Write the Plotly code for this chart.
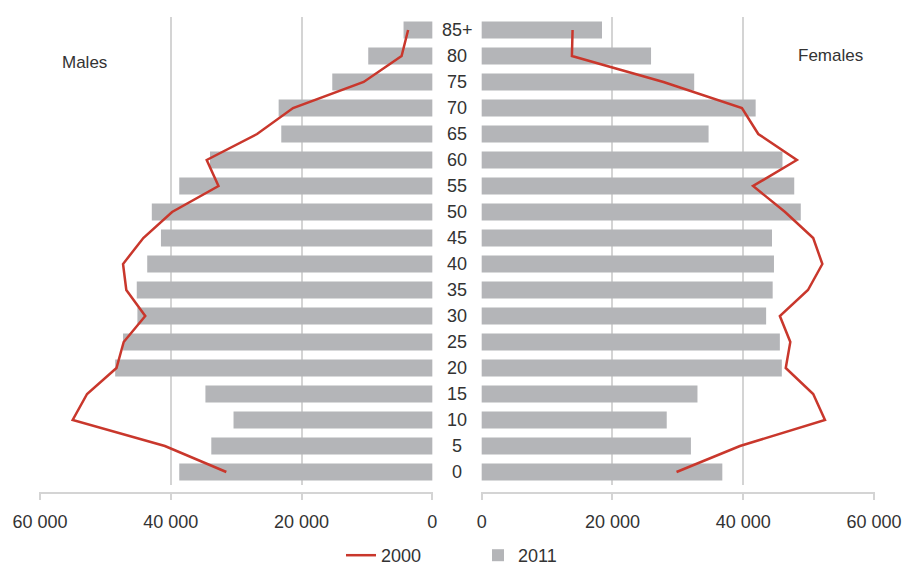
import plotly.graph_objects as go

# Age groups (bottom to top)
age_groups = ["0", "5", "10", "15", "20", "25", "30", "35", "40", "45",
              "50", "55", "60", "65", "70", "75", "80", "85+"]

# Population in 2011 (bars)
males_2011 = [38700, 33800, 30400, 34700, 48500, 47300, 45100, 45200, 43600,
              41500, 42900, 38700, 34000, 23100, 23500, 15300, 9800, 4400]
females_2011 = [36800, 32000, 28300, 33000, 45900, 45600, 43500, 44500, 44700,
                44400, 48800, 47800, 46000, 34700, 41900, 32500, 25900, 18400]

# Population in 2000 (line)
males_2000 = [31500, 40900, 55000, 52800, 48300, 47200, 43900, 46800, 47300,
              44200, 39800, 32700, 34500, 26800, 21300, 10500, 4700, 3700]
females_2000 = [29800, 39500, 52500, 50700, 46500, 47200, 45600, 49900, 52100,
                50700, 46400, 41500, 48200, 42300, 39800, 27800, 13800, 13900]

tick_vals = [0, 20000, 40000, 60000]
tick_text = ["0", "20 000", "40 000", "60 000"]

FONT = "Liberation Sans, Arial, Helvetica, sans-serif"
TEXT_COLOR = "#333333"
BAR_COLOR = "#b4b5b8"
LINE_COLOR = "#c9372c"
GRID_COLOR = "#d4d4d4"
FS = 18

W, H = 909, 567
TOP, BOTTOM = 17, 74          # plot area spans y = 17 .. 493 px
PLOT_H = H - TOP - BOTTOM

fig = go.Figure()

# 2000 lines (listed first so the legend shows them first)
fig.add_trace(go.Scatter(x=males_2000, y=age_groups, mode="lines", name="2000",
                         line=dict(color=LINE_COLOR, width=2.5),
                         xaxis="x", yaxis="y", legendgroup="2000"))
fig.add_trace(go.Scatter(x=females_2000, y=age_groups, mode="lines", name="2000",
                         line=dict(color=LINE_COLOR, width=2.5),
                         xaxis="x2", yaxis="y", legendgroup="2000",
                         showlegend=False))

# 2011 bars
fig.add_trace(go.Bar(x=males_2011, y=age_groups, orientation="h", name="2011",
                     marker=dict(color=BAR_COLOR, line=dict(width=0)),
                     xaxis="x", yaxis="y", legendgroup="2011"))
fig.add_trace(go.Bar(x=females_2011, y=age_groups, orientation="h", name="2011",
                     marker=dict(color=BAR_COLOR, line=dict(width=0)),
                     xaxis="x2", yaxis="y", legendgroup="2011",
                     showlegend=False))

pad = 150  # keeps the 0 / 60 000 gridlines off the range edges

common_x = dict(
    anchor="free", position=0, automargin=False,
    tickmode="array", tickvals=tick_vals, ticktext=tick_text,
    showgrid=True, gridcolor=GRID_COLOR, gridwidth=1.5,
    zeroline=False,
    showline=True, linecolor=GRID_COLOR, linewidth=1.5,
    ticks="outside", ticklen=6, tickcolor=GRID_COLOR, tickwidth=1.5,
    tickfont=dict(family=FONT, size=FS, color=TEXT_COLOR),
    ticklabelstandoff=7,
    fixedrange=True,
)


def px_y(py):
    """Convert a pixel row into paper coordinates of the plot area."""
    return (H - BOTTOM - py) / PLOT_H


fig.update_layout(
    width=W, height=H,
    margin=dict(l=0, r=0, t=TOP, b=BOTTOM, autoexpand=False),
    paper_bgcolor="white", plot_bgcolor="white",
    font=dict(family=FONT, size=FS, color=TEXT_COLOR),
    bargap=0.34,
    barmode="overlay",
    showlegend=True,
    legend=dict(orientation="h", x=341 / W, xanchor="left",
                y=px_y(537), yanchor="top",
                font=dict(family=FONT, size=FS, color=TEXT_COLOR),
                itemwidth=30, traceorder="normal", entrywidth=92),
    xaxis=dict(domain=[39.0 / W, 433.3 / W], range=[60000 + pad, -pad],
               **common_x),
    xaxis2=dict(domain=[480.7 / W, 875.0 / W], range=[-pad, 60000 + pad],
                **common_x),
    yaxis=dict(domain=[8 / PLOT_H, 1], type="category", categoryorder="array",
               categoryarray=age_groups, range=[-0.5, len(age_groups) - 0.5],
               showticklabels=False, showgrid=False, zeroline=False,
               showline=False, ticks="", fixedrange=True, automargin=False),
)

# Age labels in the gap between the two halves
for i, g in enumerate(age_groups):
    fig.add_annotation(x=457 / W, xref="paper", y=i, yref="y", text=g,
                       showarrow=False, xanchor="center", yanchor="middle",
                       font=dict(family=FONT, size=FS, color=TEXT_COLOR))

fig.add_annotation(x=84 / W, y=px_y(62), xref="paper", yref="paper", text="Males",
                   showarrow=False, xanchor="center", yanchor="middle",
                   font=dict(family=FONT, size=17, color=TEXT_COLOR))
fig.add_annotation(x=830 / W, y=px_y(55), xref="paper", yref="paper", text="Females",
                   showarrow=False, xanchor="center", yanchor="middle",
                   font=dict(family=FONT, size=17, color=TEXT_COLOR))

fig.write_html("out.html")
